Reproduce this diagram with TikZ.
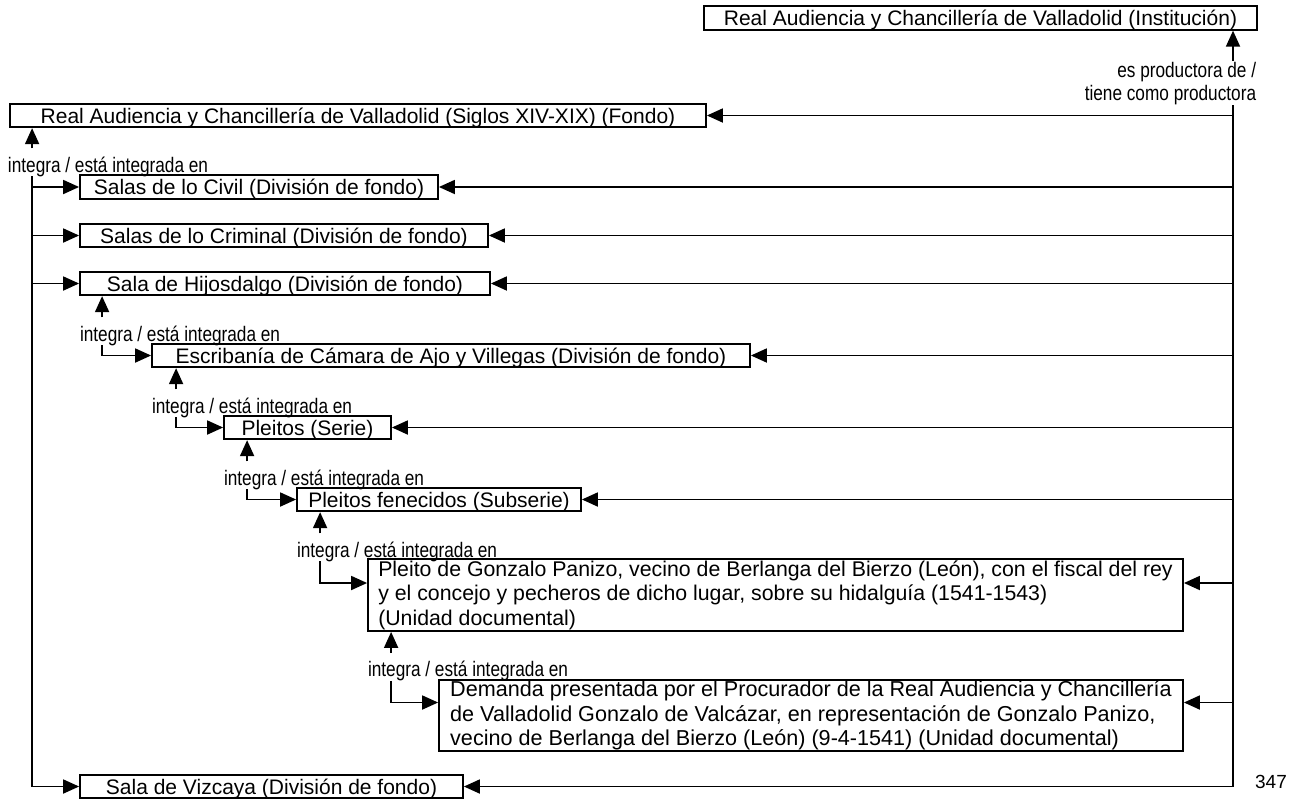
\documentclass[tikz,border=0pt]{standalone}
\usepackage{fontspec}
\setmainfont{Liberation Sans}
\newfontfamily\narrowfont[FakeStretch=0.82]{Liberation Sans}
\usetikzlibrary{arrows.meta}

\begin{document}
\begin{tikzpicture}[x=0.5pt,y=-0.5pt,line width=0.9pt,
  >={Triangle[length=8pt,width=7pt]},
  caja/.style={draw,inner sep=0pt,minimum height=11.75pt,text height=7.6pt,text depth=0pt,
    font=\fontsize{10.5}{12}\selectfont},
  cajalarga/.style={draw,inner sep=0pt,align=left,font=\fontsize{10.8}{12.2}\selectfont},
  etiq/.style={inner sep=0pt,text height=11.5pt,text depth=1.5pt,anchor=base west,
    font=\narrowfont\fontsize{10.5}{11.5}\selectfont},
  etiqder/.style={inner sep=0pt,anchor=north east,align=right,
    font=\narrowfont\fontsize{10.5}{11.5}\selectfont}]
  \useasboundingbox (0,0) rectangle (1300,798);

  % cajas
  \node[caja,minimum width=276.5pt] (inst) at (980.5,18) {Real Audiencia y Chancillería de Valladolid (Institución)};
  \node[caja,minimum width=348pt] (fondo) at (358,115.5) {Real Audiencia y Chancillería de Valladolid (Siglos XIV-XIX) (Fondo)};
  \node[caja,minimum width=179pt] (civil) at (259,187) {Salas de lo Civil (División de fondo)};
  \node[caja,minimum width=204pt] (criminal) at (284,235.5) {Salas de lo Criminal (División de fondo)};
  \node[caja,minimum width=205pt] (hijos) at (285,283.5) {Sala de Hijosdalgo (División de fondo)};
  \node[caja,minimum width=299pt] (escrib) at (451,355.5) {Escribanía de Cámara de Ajo y Villegas (División de fondo)};
  \node[caja,minimum width=83.5pt] (pleitos) at (307.5,427.5) {Pleitos (Serie)};
  \node[caja,minimum width=142pt] (fenec) at (439,499.5) {Pleitos fenecidos (Subserie)};
  \node[cajalarga,minimum width=407.5pt,minimum height=36pt,font=\fontsize{10.65}{12.2}\selectfont] (pleito) at (775.5,595)
    {Pleito de Gonzalo Panizo, vecino de Berlanga del Bierzo (León), con el fiscal del rey\\
     y el concejo y pecheros de dicho lugar, sobre su hidalguía (1541-1543)\\
     (Unidad documental)};
  \node[cajalarga,minimum width=372pt,minimum height=35.5pt] (demanda) at (811,715.5)
    {Demanda presentada por el Procurador de la Real Audiencia y Chancillería\\
     de Valladolid Gonzalo de Valcázar, en representación de Gonzalo Panizo,\\
     vecino de Berlanga del Bierzo (León) (9-4-1541) (Unidad documental)};
  \node[caja,minimum width=191.5pt] (vizcaya) at (271.5,786.5) {Sala de Vizcaya (División de fondo)};

  \coordinate (pin) at ([yshift=6pt]pleito.west);
  \coordinate (pout) at ([yshift=6pt]pleito.east);
  \coordinate (din) at ([yshift=6.5pt]demanda.west);
  \coordinate (dout) at ([yshift=6.5pt]demanda.east);

  % etiquetas
  \node[etiq] (lfondo) at ([xshift=-1pt,yshift=-22pt]fondo.south west) {integra / está integrada en};
  \node[etiq] (lhijos) at ([yshift=-22.5pt]hijos.south west) {integra / está integrada en};
  \node[etiq] (lescrib) at ([yshift=-22.5pt]escrib.south west) {integra / está integrada en};
  \node[etiq] (lpleitos) at ([yshift=-22.5pt]pleitos.south west) {integra / está integrada en};
  \node[etiq] (lfenec) at ([yshift=-22.5pt]fenec.south west) {integra / está integrada en};
  \node[etiq] (lpleito) at ([yshift=-22.5pt]pleito.south west) {integra / está integrada en};
  \node[etiqder] (lprod) at (1257,61) {es productora de /\\tiene como productora};

  % productora
  \coordinate (der) at (1233,0);
  \draw[->] (der |- lprod.north) -- (der |- inst.south);
  \draw[->] (der |- lprod.south) |- (vizcaya.east);
  \draw[->] (der |- fondo.east) -- (fondo.east);
  \draw[->] (der |- civil.east) -- (civil.east);
  \draw[->] (der |- criminal.east) -- (criminal.east);
  \draw[->] (der |- hijos.east) -- (hijos.east);
  \draw[->] (der |- escrib.east) -- (escrib.east);
  \draw[->] (der |- pleitos.east) -- (pleitos.east);
  \draw[->] (der |- fenec.east) -- (fenec.east);
  \draw[->] (der |- pout) -- (pout);
  \draw[->] (der |- dout) -- (dout);

  % integra / está integrada en
  \coordinate (afondo) at ([xshift=11.5pt]fondo.south west);
  \draw[->] (afondo |- lfondo.north) -- (afondo);
  \draw[->] (afondo |- lfondo.south) |- (vizcaya.west);
  \draw[->] (afondo |- civil.west) -- (civil.west);
  \draw[->] (afondo |- criminal.west) -- (criminal.west);
  \draw[->] (afondo |- hijos.west) -- (hijos.west);

  \coordinate (ahijos) at ([xshift=11.5pt]hijos.south west);
  \draw[->] (ahijos |- lhijos.north) -- (ahijos);
  \draw[->] (ahijos |- lhijos.south) |- (escrib.west);

  \coordinate (aescrib) at ([xshift=12.5pt]escrib.south west);
  \draw[->] (aescrib |- lescrib.north) -- (aescrib);
  \draw[->] (aescrib |- lescrib.south) |- (pleitos.west);

  \coordinate (apleitos) at ([xshift=12pt]pleitos.south west);
  \draw[->] (apleitos |- lpleitos.north) -- (apleitos);
  \draw[->] (apleitos |- lpleitos.south) |- (fenec.west);

  \coordinate (afenec) at ([xshift=12pt]fenec.south west);
  \draw[->] (afenec |- lfenec.north) -- (afenec);
  \draw[->] (afenec |- lfenec.south) |- (pin);

  \coordinate (apleito) at ([xshift=12pt]pleito.south west);
  \draw[->] (apleito |- lpleito.north) -- (apleito);
  \draw[->] (apleito |- lpleito.south) |- (din);

  \node[font=\fontsize{9.5}{10}\selectfont] (pagina) at (1271,782) {347};
\end{tikzpicture}
\end{document}
